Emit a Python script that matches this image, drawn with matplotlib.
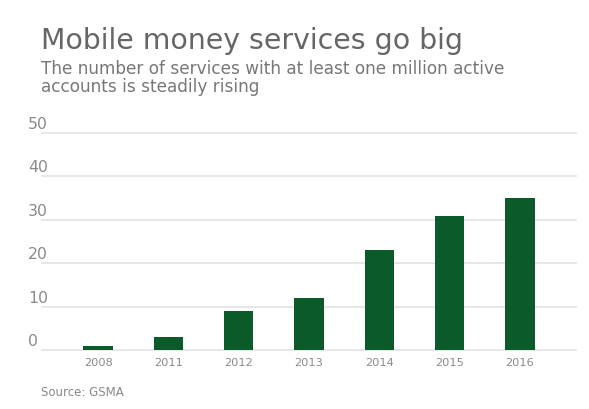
import matplotlib
matplotlib.use("Agg")
import matplotlib.pyplot as plt
import matplotlib.transforms as mtransforms

# Données (GSMA)
years = ["2008", "2011", "2012", "2013", "2014", "2015", "2016"]
services = [1, 3, 9, 12, 23, 31, 35]
y_ticks = [0, 10, 20, 30, 40, 50]

BAR_COLOR = "#0b5a2a"
GRID_COLOR = "#e3e3e3"

W, H = 589, 410
fig = plt.figure(figsize=(W / 100, H / 100), dpi=100)
fig.patch.set_facecolor("white")

# Axes placés en pixels
left, right, top, bottom = 42, 576, 134, 351.3
ax = fig.add_axes([left / W, 1 - bottom / H, (right - left) / W, (bottom - top) / H])

x = range(len(years))
ax.bar(x, services, width=0.42, color=BAR_COLOR, zorder=3)

ax.set_xlim(-0.8, len(years) - 0.2)
ax.set_ylim(0, 50)
ax.set_yticks(y_ticks)
ax.yaxis.grid(True, color=GRID_COLOR, linewidth=1.2, zorder=0)
ax.set_axisbelow(True)
for gl in ax.get_ygridlines():
    gl.set_clip_on(False)

ax.set_xticks(list(x))
ax.set_xticklabels(years, fontsize=8.2, color="#8a8a8a")
ax.tick_params(axis="x", length=0, pad=5)
ax.tick_params(axis="y", length=0, labelleft=False)

for s in ax.spines.values():
    s.set_visible(False)

# Étiquettes de l'axe y posées au-dessus des lignes
trans = mtransforms.blended_transform_factory(ax.transAxes, ax.transData)
for v in y_ticks:
    ax.text(-0.026, v + 0.5, str(v), transform=trans, ha="left", va="bottom",
            fontsize=11.3, color="#8a8a8a")

# Titre et sous-titre
fig.text(41 / W, 1 - 49 / H, "Mobile money services go big", fontsize=20.4,
         color="#666666", ha="left", va="baseline")
fig.text(41 / W, 1 - 73.6 / H, "The number of services with at least one million active",
         fontsize=12.2, color="#777777", ha="left", va="baseline")
fig.text(41 / W, 1 - 92.5 / H, "accounts is steadily rising",
         fontsize=12.2, color="#777777", ha="left", va="baseline")

fig.text(41 / W, 1 - 396.3 / H, "Source: GSMA", fontsize=8.5, color="#888888",
         ha="left", va="baseline")

fig.savefig("out.png", dpi=100)
